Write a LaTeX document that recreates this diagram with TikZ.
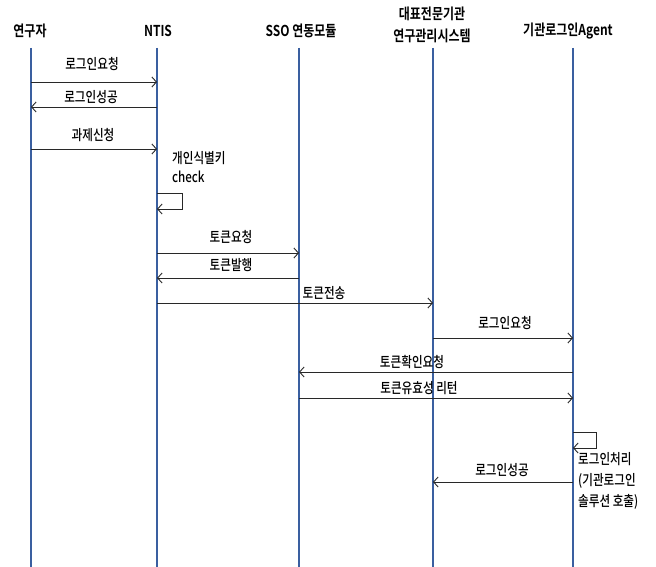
\documentclass[tikz,border=0pt]{standalone}
\usepackage{fontspec}
\setmainfont{Noto Sans CJK KR Medium}[FakeStretch=0.8]
\newfontfamily\hdfont{Noto Sans CJK KR Bold}[FakeStretch=0.8]
\usetikzlibrary{arrows.meta}
\definecolor{lifeblue}{RGB}{58,95,160}
\definecolor{msggray}{RGB}{40,40,40}
\tikzset{
  lifeline/.style={draw=lifeblue,line width=1.2pt},
  head/.style={font=\hdfont\fontsize{15}{22}\selectfont,inner sep=0pt,align=center},
  msg/.style={draw=msggray,line width=0.9pt,-{Straight Barb[length=4.5pt,width=10pt]}},
  lbl/.style={font=\fontsize{14.5}{16}\selectfont,inner sep=0pt},
  note/.style={font=\fontsize{14.5}{19}\selectfont,inner sep=0pt,align=left,anchor=west}
}
\begin{document}
\begin{tikzpicture}[x=1pt,y=-1pt]
\useasboundingbox[fill=white] (0,0) rectangle (656,567);
% headers
\node[head] (h1) at (30,31) {연구자};
\node[head] (h2) at (158,31) {NTIS};
\node[head] (h3) at (301,31) {SSO 연동모듈};
\node[head] (h4) at (432,24.5) {대표전문기관\\연구관리시스템};
\node[head] (h5) at (568,31) {기관로그인Agent};
% lifelines
\coordinate (t1) at (31,48);  \coordinate (b1) at (31,567);
\coordinate (t2) at (157,48); \coordinate (b2) at (157,567);
\coordinate (t3) at (299,48); \coordinate (b3) at (299,567);
\coordinate (t4) at (433,48); \coordinate (b4) at (433,567);
\coordinate (t5) at (573,48); \coordinate (b5) at (573,567);
\foreach \i in {1,...,5} \draw[lifeline] (t\i) -- (b\i);
% messages
\draw[msg] (t1 |- 0,82) -- (t2 |- 0,82);
\node[lbl] (m1) at (92,64) {로그인요청};
\draw[msg] (t2 |- 0,107) -- (t1 |- 0,107);
\node[lbl] (m2) at (91,97) {로그인성공};
\draw[msg] (t1 |- 0,149) -- (t2 |- 0,149);
\node[lbl] (m3) at (93,135) {과제신청};
\node[note] (n1) at (172,167.5) {개인식별키\\check};
\coordinate (s1) at (182,193);
\coordinate (s2) at (182,209);
\draw[msg] (t2 |- s1) -- (s1) -- (s2) -- (t2 |- s2);
\draw[msg] (t2 |- 0,253) -- (t3 |- 0,253);
\node[lbl] (m4) at (231,237) {토큰요청};
\draw[msg] (t3 |- 0,278) -- (t2 |- 0,278);
\node[lbl] (m5) at (231,265) {토큰발행};
\draw[msg] (t2 |- 0,303) -- (t4 |- 0,303);
\node[lbl] (m6) at (324,293) {토큰전송};
\draw[msg] (t4 |- 0,338) -- (t5 |- 0,338);
\node[lbl] (m7) at (505,323) {로그인요청};
\draw[msg] (t5 |- 0,372) -- (t3 |- 0,372);
\node[lbl] (m8) at (412,362) {토큰확인요청};
\draw[msg] (t3 |- 0,398) -- (t5 |- 0,398);
\node[lbl] (m9) at (419,388) {토큰유효성 리턴};
\coordinate (s3) at (596,432);
\coordinate (s4) at (596,448);
\draw[msg] (t5 |- s3) -- (s3) -- (s4) -- (t5 |- s4);
\node[note,font=\fontsize{14.5}{21}\selectfont] (n2) at (578,481) {로그인처리\\(기관로그인\\솔루션 호출)};
\draw[msg] (t5 |- 0,482) -- (t4 |- 0,482);
\node[lbl] (m10) at (502,470) {로그인성공};
\end{tikzpicture}
\end{document}
